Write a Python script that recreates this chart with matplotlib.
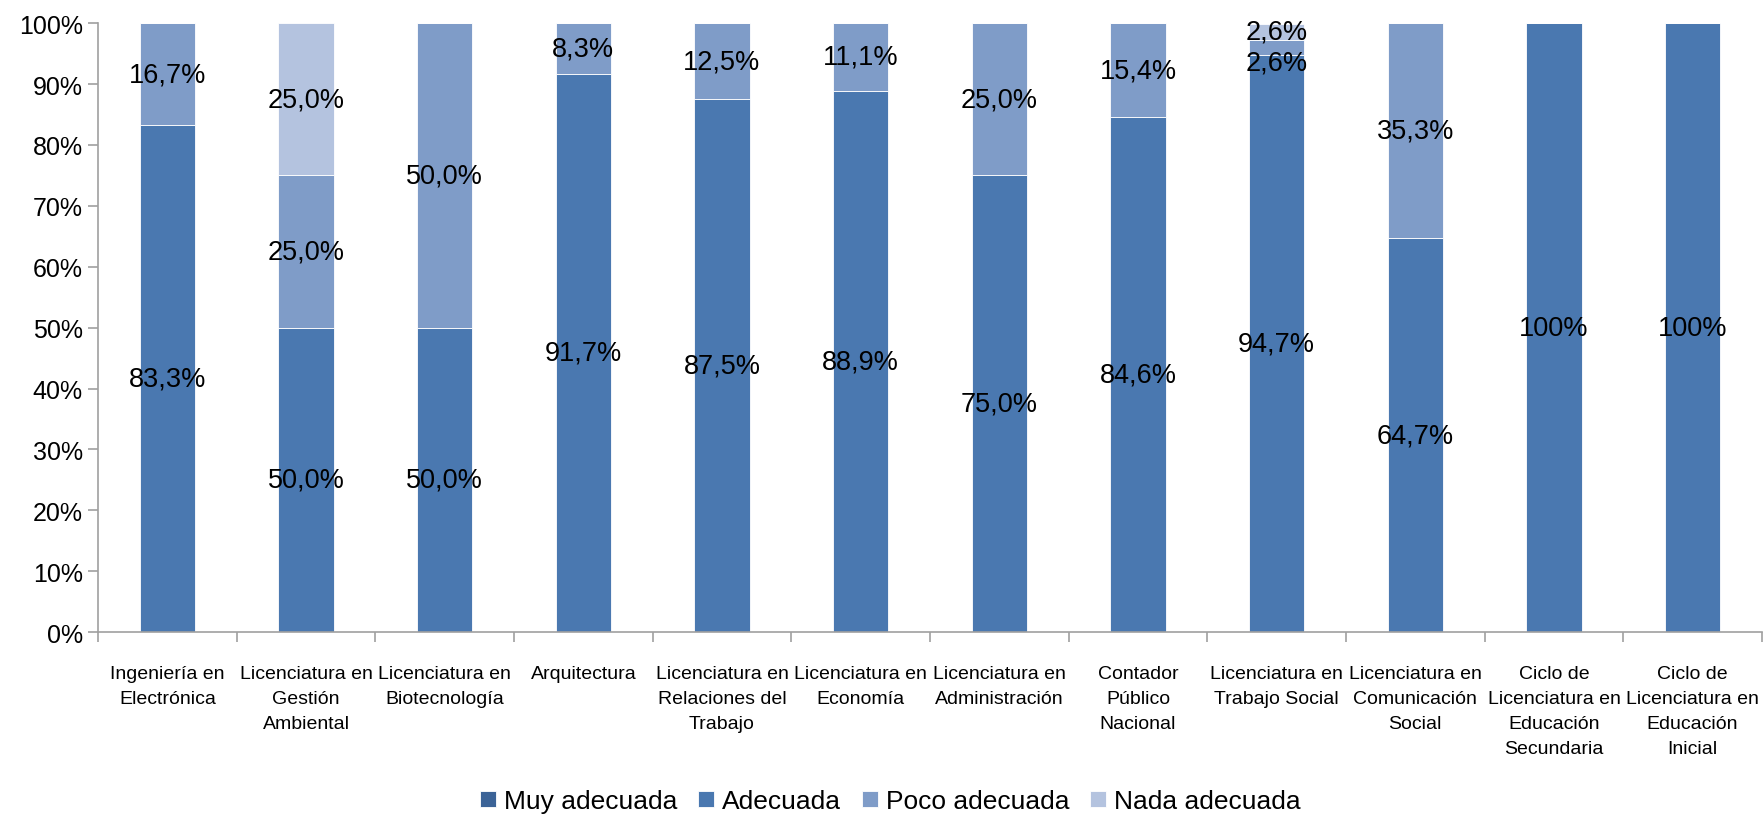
import matplotlib
matplotlib.use("Agg")
import matplotlib.pyplot as plt
import numpy as np
from matplotlib import font_manager

# font: narrow sans like the original (Arial Narrow), else Liberation Sans
names = {f.name for f in font_manager.fontManager.ttflist}
narrow = 'Liberation Sans Narrow' in names
fam = ['Liberation Sans Narrow', 'Liberation Sans', 'DejaVu Sans']
fam = [f for f in fam if f in names] or ['DejaVu Sans']
plt.rcParams['font.family'] = fam

carreras = ["Ingeniería en\nElectrónica", "Licenciatura en\nGestión\nAmbiental",
            "Licenciatura en\nBiotecnología", "Arquitectura",
            "Licenciatura en\nRelaciones del\nTrabajo", "Licenciatura en\nEconomía",
            "Licenciatura en\nAdministración", "Contador\nPúblico\nNacional",
            "Licenciatura en\nTrabajo Social", "Licenciatura en\nComunicación\nSocial",
            "Ciclo de\nLicenciatura en\nEducación\nSecundaria",
            "Ciclo de\nLicenciatura en\nEducación\nInicial"]

series = ["Muy adecuada", "Adecuada", "Poco adecuada", "Nada adecuada"]
muy_adecuada = [0, 0, 0, 0, 0, 0, 0, 0, 0, 0, 0, 0]
adecuada = [83.3, 50.0, 50.0, 91.7, 87.5, 88.9, 75.0, 84.6, 94.7, 64.7, 100, 100]
poco_adecuada = [16.7, 25.0, 50.0, 8.3, 12.5, 11.1, 25.0, 15.4, 2.6, 35.3, 0, 0]
nada_adecuada = [0, 25.0, 0, 0, 0, 0, 0, 0, 2.6, 0, 0, 0]

colores = ["#3B6397", "#4A78B0", "#7F9CC8", "#B4C3DF"]

fig = plt.figure(figsize=(17.63, 8.2), dpi=100)
ax = fig.add_axes([0.0556, 0.228, 0.9438, 0.7425])

x = np.arange(len(carreras))
bottom = np.zeros(len(carreras))
datos = [muy_adecuada, adecuada, poco_adecuada, nada_adecuada]
for nombre, vals, col in zip(series, datos, colores):
    vals = np.array(vals, dtype=float)
    ax.bar(x, vals, 0.4, bottom=bottom, color=col, label=nombre,
           edgecolor='white', linewidth=0.6)
    for i, v in enumerate(vals):
        if v <= 0:
            continue
        txt = "100%" if v == 100 else ("%.1f%%" % v).replace(".", ",")
        # small segment stacked under another small one: push label down
        dy = 0
        if v < 5 and nombre == "Poco adecuada" and 0 < nada_adecuada[i] < 5:
            dy = -11
        ax.annotate(txt, (x[i], bottom[i] + v / 2), xytext=(0, dy),
                    textcoords='offset points', ha='center', va='center',
                    fontsize=20.5 if narrow else 19.5, color='black')
    bottom += vals

ax.set_xlim(-0.5, len(carreras) - 0.5)
ax.set_ylim(0, 100)
ax.set_yticks(np.arange(0, 101, 10))
ax.set_yticklabels(["%d%%" % t for t in range(0, 101, 10)], fontsize=19 if narrow else 18)
ax.set_xticks(x)
ax.set_xticklabels(carreras, fontsize=15 if narrow else 14, linespacing=1.6, va='top')
ax.set_xticks(np.arange(-0.5, len(carreras), 1), minor=True)
ax.tick_params(axis='x', which='major', length=0, pad=24)
ax.tick_params(axis='x', which='minor', length=7, color='#A0A0A0', width=1.2)
ax.tick_params(axis='y', length=7, color='#A0A0A0', width=1.2, pad=4)

for s in ['top', 'right']:
    ax.spines[s].set_visible(False)
for s in ['left', 'bottom']:
    ax.spines[s].set_color('#A0A0A0')
    ax.spines[s].set_linewidth(1.2)

fig.legend(loc='lower center', bbox_to_anchor=(0.505, -0.022), ncol=4, frameon=False,
           fontsize=19, handlelength=0.6, handleheight=0.6, handletextpad=0.3,
           columnspacing=0.8)

fig.savefig("out.png", dpi=100)
